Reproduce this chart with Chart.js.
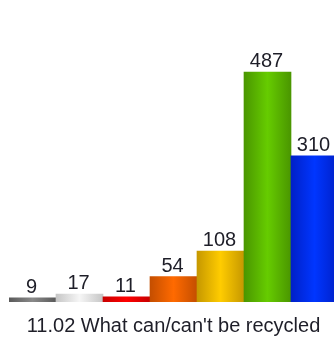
<!DOCTYPE html>
<html>
<head>
<meta charset="utf-8">
<script src="https://cdn.jsdelivr.net/npm/chart.js@4"></script>
<style>
  html, body { margin: 0; padding: 0; background: #fff; overflow: hidden; }
  #wrap { position: relative; width: 340px; height: 339px; }
</style>
</head>
<body>
<div id="wrap"><canvas id="chart"></canvas></div>
<script>
// Данные графика
const categories = ['1', '2', '3', '4', '5', '6', '7'];
const values = [9, 17, 11, 54, 108, 487, 310];
const edgeColors = ['#595959', '#c6c6c6', '#c80000', '#c44e00', '#c69800', '#4a9600', '#0020c8'];
const midColors = ['#8a8a8a', '#f6f6f6', '#ff0000', '#ff6a00', '#ffcc00', '#66cc00', '#0036ff'];
const axisTitle = "11.02 What can/can't be recycled";

// Горизонтальный градиент для каждого столбца
function barGradient(context) {
  const chart = context.chart;
  const i = context.dataIndex;
  const xs = chart.scales.x;
  if (!chart.chartArea || !xs) return midColors[i];
  const half = xs.width / categories.length / 2;
  const cx = xs.getPixelForValue(i);
  const g = chart.ctx.createLinearGradient(cx - half, 0, cx + half, 0);
  g.addColorStop(0, edgeColors[i]);
  g.addColorStop(0.5, midColors[i]);
  g.addColorStop(1, edgeColors[i]);
  return g;
}

// Подписи значений над столбцами
const valueLabels = {
  id: 'valueLabels',
  afterDatasetsDraw(chart) {
    const ctx = chart.ctx;
    const meta = chart.getDatasetMeta(0);
    ctx.save();
    ctx.font = "20px 'Liberation Sans', Arial, sans-serif";
    ctx.fillStyle = '#1e1e28';
    ctx.textAlign = 'center';
    ctx.textBaseline = 'alphabetic';
    meta.data.forEach((bar, i) => {
      ctx.fillText(String(values[i]), bar.x - 1, bar.y - 5);
    });
    ctx.restore();
  }
};

new Chart(document.getElementById('chart'), {
  type: 'bar',
  data: {
    labels: categories,
    datasets: [{
      data: values,
      backgroundColor: barGradient,
      borderWidth: 0,
      barPercentage: 1,
      categoryPercentage: 1
    }]
  },
  options: {
    responsive: true,
    maintainAspectRatio: false,
    animation: false,
    layout: {
      padding: {left: 9, right: 2, top: 0, bottom: 1}
    },
    plugins: {
      legend: {display: false},
      tooltip: {enabled: false}
    },
    scales: {
      x: {
        grid: {display: false},
        border: {display: false},
        ticks: {display: false},
        title: {
          display: true,
          text: axisTitle,
          color: '#1e1e28',
          font: {family: "'Liberation Sans', Arial, sans-serif", size: 20},
          padding: {top: 4, bottom: 0}
        }
      },
      y: {
        display: false,
        min: 0,
        max: 640
      }
    }
  },
  plugins: [valueLabels]
});
</script>
</body>
</html>
